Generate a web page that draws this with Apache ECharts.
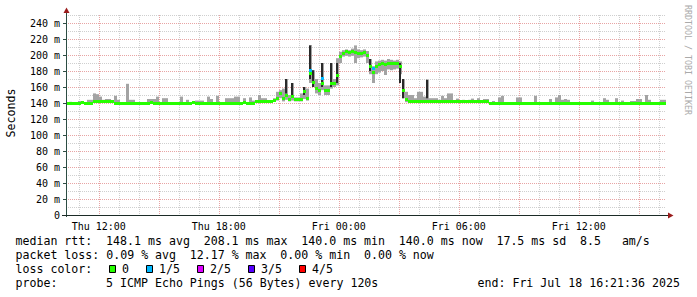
<!DOCTYPE html>
<html><head><meta charset="utf-8">
<script src="https://cdn.jsdelivr.net/npm/echarts@6/dist/echarts.min.js"></script>
<style>html,body{margin:0;padding:0;background:#fff}#c{width:697px;height:297px}</style>
</head><body><div id="c"></div>
<script>
// time: minutes since Thu 00:00; first sample Thu 10:21:36, one sample every 9 min
const START_MIN = 621.6;
const STEP_MIN = 9;
const SPAN_MIN = 1800;

const median = [
 140,140,139.5,140,140,140.5,140,140,140,
 142,142,142,142,142,141.5,141.5,
 140,140,140,140,139.5,140,140,140,140,140,
 140,140,140.5,140,140,140,140,140,139.5,140,
 140,140,140,140,140,140,140.5,140,140,140,
 140,140,140,139.5,140,140,140,140,140,140,
 140,140,140,140.5,140,140,140,
 141.5,141.5,141.5,141.5,141.5,142,143,
 146,152,146,150,144,148,144,144,145,154,
 146,177,166,158,156,165,156,156,165,165,
 175,198,202,204,203,204,203,202,202,203,
 200,186,178,186,188,189,188,190,189,190,
 189,186,156,
 144,142.5,
 142,142,142,142,142,142,142,142,142,142,
 141.5,141.5,141.5,141.5,141.5,141.5,141.5,141.5,141.5,141.5,141.5,141.5,141.5,141.5,141.5,141.5,
 140,140,140,140,140,140,140,140,140,140,
 140,140,140,140,139.5,140,140,140,140,140,
 140,140,140,140,140,140,140,140,140,140,
 140,140,140,140,140,140,140,140,140,140,
 140,140,140,140,140,140,140,140,140,140,
 140,140,140,140,140,140,140,140,140
];

const smokeHi = [
 141,141.5,141,141,142.5,142.5,141,144,144,152,
 151,148,144,145,145,143,149,144,141,141,
 164,144,144,141,141,141,141,145,145,145,
 148,141,146,146,141,141,141,141,148,141,
 144,141,141,143,143,143,141,148,145,141,
 149,141,141,146,146,146,148,148,141,146,
 141,147,143,143,150,146,146,143,143,146,
 154,156,158,170,150,165,147,147,152,160,
 158,212.5,181,170,165,190,162,162,190,170,
 196,204,206,207,206,208,212,207,206,207,
 205,195,186,192,193,194,193,195,194,193,
 194,192,170,154,150,150,146,154,154,148,
 169,146,146,146,144,149,146,152,152,143,
 145.5,143,144,142,144,145.5,142,146,143,145,
 145,141,142.5,141,147,149,141,141,141,141,
 147,147,141,141,141,141,149,141,141,141,
 141,145,141,147,150,144,145,144,141,141,
 141,141,141,141,141,143,141,141,141,146,
 144,141,141,146,141,143,141,141,142.5,142.5,
 145,145,141,150,144,141,141,141,144,144
];

const smokeLo = [
 139,139,139,139,139,139,139,139,139,
 141,141,141,141,141,141,141,
 139,139,139,139,139,139,139,139,139,139,
 139,139,139,139,139,139,139,139,139,139,
 139,139,139,139,139,139,139,139,139,139,
 139,139,139,139,139,139,139,139,139,139,
 139,139,139,139,139,139,139,
 140.5,140.5,140.5,140.5,140.5,141,142,
 143,146,142,144,142,143,142,142,142,145,143,
 165,160,152,150,156,150,150,158,160,162,
 190,198,199,198,199,190,196,197,198,190,
 176,165,176,178,180,175,182,181,182,183,
 176,146,
 141,141,
 141,141,141,141,141,141,141,141,141,141,
 140.5,140.5,140.5,140.5,140.5,140.5,140.5,140.5,140.5,140.5,140.5,140.5,140.5,140.5,140.5,140.5,
 139,139,139,139,139,139,139,139,139,139,
 139,139,139,139,139,139,139,139,139,139,
 139,139,139,139,139,139,139,139,139,139,
 139,139,139,139,139,139,139,139,139,139,
 139,139,139,139,139,139,139,139,139,139,
 139,139,139,139,139,139,139,139,139
];

// darker smoke streaks (sample index, low, high)
const darkIdx = [73,75,79,81,82,85,88,90,101,111,112,120];
const darkLo  = [152,150,150,170,160,160,160,165,180,165,146,146];
const darkHi  = [170,165,160,212,181,190,190,190,195,190,170,169];

// samples with packet loss (index, median, loss level)
const lossIdx = [81,85,102];
const lossMedian = [181,171,183];
const lossLevel = [1,1,1];

const lossColors = ['#26ff00','#00b8ff','#dd00ff','#5500ff','#ff0000'];
const lossLabels = ['0','1/5','2/5','3/5','4/5'];

const yTicks = [0,20,40,60,80,100,120,140,160,180,200,220,240];
const yMinor = [10,30,50,70,90,110,130,150,170,190,210,230,250];
const xLabelTicks = [720,1080,1440,1800,2160];
const xLabelText = ['Thu 12:00','Thu 18:00','Fri 00:00','Fri 06:00','Fri 12:00'];
const xMajor = [720,900,1080,1260,1440,1620,1800,1980,2160,2340];
const xMinor = [660,780,840,960,1020,1140,1200,1320,1380,1500,1560,1680,1740,1860,1920,2040,2100,2220,2280,2400];

const legendLines = [
 'median rtt:  148.1 ms avg  208.1 ms max  140.0 ms min  140.0 ms now  17.5 ms sd  8.5   am/s',
 'packet loss: 0.09 % avg  12.17 % max  0.00 % min  0.00 % now'
];
const lossTitle = 'loss color:';
const probeText = 'probe:       5 ICMP Echo Pings (56 Bytes) every 120s';
const endText = 'end: Fri Jul 18 16:21:36 2025';
const yTitle = 'Seconds';
const watermark = 'RRDTOOL / TOBI OETIKER';

const times = median.map((_, i) => START_MIN + i * STEP_MIN);

const FONT = 'DejaVu Sans Mono';
const FS = 11.6, CW = 6.97;
const GRID_L = 66, GRID_T = 15, GRID_W = 600, GRID_H = 200;

function rangeItem(color, frac) {
  return function (params, api) {
    const t = api.value(0);
    const a = api.coord([t, api.value(2)]);
    const b = api.coord([t + STEP_MIN, api.value(1)]);
    const w = b[0] - a[0];
    const ww = Math.round(w * frac);
    const x = Math.round(a[0] + (w - ww) / 2);
    return {type: 'rect', shape: {x: x, y: a[1], width: ww, height: Math.max(1, b[1] - a[1])},
      style: {fill: color}};
  };
}
function bandItem(colorFn) {
  return function (params, api) {
    const t = api.value(0);
    const a = api.coord([t, api.value(1)]);
    const b = api.coord([t + STEP_MIN, api.value(1)]);
    const y = Math.round(a[1] - 1.5);
    return {type: 'rect', shape: {x: a[0], y: y, width: b[0] - a[0], height: 3},
      style: {fill: colorFn(api)}};
  };
}

function textRow(str, x0, y) {
  const out = [];
  const re = /\S+(?: \S+)*/g;
  let m;
  while ((m = re.exec(str))) {
    out.push({type: 'text', x: x0 + m.index * CW, y: y, z: 20,
      style: {text: m[0], fontFamily: FONT, fontSize: FS, fill: '#000', align: 'left', verticalAlign: 'middle'}});
  }
  return out;
}

const graphics = [];
const rowY = [241, 255, 269, 283];
graphics.push(...textRow(legendLines[0], 15.5, rowY[0]));
graphics.push(...textRow(legendLines[1], 15.5, rowY[1]));
graphics.push(...textRow(lossTitle, 15.5, rowY[2]));
const boxX = [109, 146, 197, 248, 299];
const boxLabelX = [122, 159, 210, 261, 312];
lossLabels.forEach((lab, k) => {
  graphics.push({type: 'rect', z: 20, shape: {x: boxX[k] + 0.5, y: 265.5, width: 6, height: 7},
    style: {fill: lossColors[k], stroke: '#000', lineWidth: 1}});
  graphics.push({type: 'text', x: boxLabelX[k], y: rowY[2], z: 20,
    style: {text: lab, fontFamily: FONT, fontSize: FS, fill: '#000', align: 'left', verticalAlign: 'middle'}});
});
graphics.push(...textRow(probeText, 15.5, rowY[3]));
graphics.push({type: 'text', x: 477.5, y: rowY[3], z: 20,
  style: {text: endText, fontFamily: FONT, fontSize: FS, fill: '#000', align: 'left', verticalAlign: 'middle'}});
graphics.push({type: 'text', x: 10.5, y: 113, rotation: Math.PI / 2, z: 20,
  style: {text: yTitle, fontFamily: FONT, fontSize: FS, fill: '#000', align: 'center', verticalAlign: 'middle'}});
graphics.push({type: 'text', x: 688, y: 60, rotation: -Math.PI / 2, z: 20,
  style: {text: watermark, fontFamily: FONT, fontSize: 8.3, fill: '#aaaaaa', align: 'center', verticalAlign: 'middle'}});
// axis extensions and arrows
graphics.push({type: 'line', z: 20, shape: {x1: 66.5, y1: 217, x2: 66.5, y2: 12}, style: {stroke: '#2c4d43', lineWidth: 1}});
graphics.push({type: 'line', z: 20, shape: {x1: 62, y1: 215.5, x2: 669, y2: 215.5}, style: {stroke: '#1c2b27', lineWidth: 1}});
graphics.push({type: 'polygon', z: 21, shape: {points: [[66.5, 7.5], [63.5, 13], [69.5, 13]]}, style: {fill: '#9a1c1c'}});
graphics.push({type: 'polygon', z: 21, shape: {points: [[673.5, 215.5], [668, 212.5], [668, 218.5]]}, style: {fill: '#9a1c1c'}});

const redGrid = {show: true, lineStyle: {color: '#e8a4a4', width: 1, type: [1, 1]}};
const grayGrid = {show: true, lineStyle: {color: '#cfcfcf', width: 1, type: [1, 1]}};

const option = {
  animation: false,
  backgroundColor: '#ffffff',
  grid: {left: GRID_L, top: GRID_T, width: GRID_W, height: GRID_H, containLabel: false, outerBoundsMode: 'none'},
  xAxis: [
    {type: 'value', min: START_MIN, max: START_MIN + SPAN_MIN, z: 2,
      axisLine: {show: false},
      axisTick: {show: false, customValues: xMajor},
      axisLabel: {show: true, customValues: xLabelTicks, margin: 6,
        formatter: v => xLabelText[xLabelTicks.indexOf(v)] || '',
        fontFamily: FONT, fontSize: 10, color: '#000'},
      splitLine: redGrid},
    {type: 'value', min: START_MIN, max: START_MIN + SPAN_MIN, z: 1,
      axisLine: {show: false},
      axisTick: {show: false, customValues: xMinor},
      axisLabel: {show: false},
      splitLine: grayGrid}
  ],
  yAxis: [
    {type: 'value', min: 0, max: 250, z: 2,
      axisLine: {show: false},
      axisTick: {show: true, inside: false, length: 3, customValues: yTicks, lineStyle: {color: '#2c4d43'}},
      axisLabel: {show: true, customValues: yTicks, margin: 6,
        formatter: v => v === 0 ? '0' : v + ' m',
        fontFamily: FONT, fontSize: 10, color: '#000'},
      splitLine: redGrid},
    {type: 'value', min: 0, max: 250, z: 1,
      axisLine: {show: false},
      axisTick: {show: false, customValues: yMinor},
      axisLabel: {show: false},
      splitLine: grayGrid}
  ],
  series: [
    {type: 'custom', name: 'smoke', xAxisIndex: 0, yAxisIndex: 0, clip: true, z: 3,
      data: times.map((t, i) => [t, smokeLo[i], smokeHi[i]]),
      encode: {x: 0, y: [1, 2]}, renderItem: rangeItem('#a3a3a3', 1)},
    {type: 'custom', name: 'smokeDark', xAxisIndex: 0, yAxisIndex: 0, clip: true, z: 4,
      data: darkIdx.map((k, j) => [times[k], darkLo[j], darkHi[j]]),
      encode: {x: 0, y: [1, 2]}, renderItem: rangeItem('#2a2a2a', 0.67)},
    {type: 'custom', name: 'median', xAxisIndex: 0, yAxisIndex: 0, clip: true, z: 5,
      data: times.map((t, i) => [t, median[i]]),
      encode: {x: 0, y: 1}, renderItem: bandItem(() => lossColors[0])},
    {type: 'custom', name: 'loss', xAxisIndex: 0, yAxisIndex: 0, clip: true, z: 6,
      data: lossIdx.map((k, j) => [times[k], lossMedian[j], lossLevel[j]]),
      encode: {x: 0, y: 1}, renderItem: bandItem(api => lossColors[api.value(2)])}
  ],
  graphic: graphics
};

const chart = echarts.init(document.getElementById('c'), null, {renderer: 'svg', width: 697, height: 297});
chart.setOption(option);
</script>
</body></html>
